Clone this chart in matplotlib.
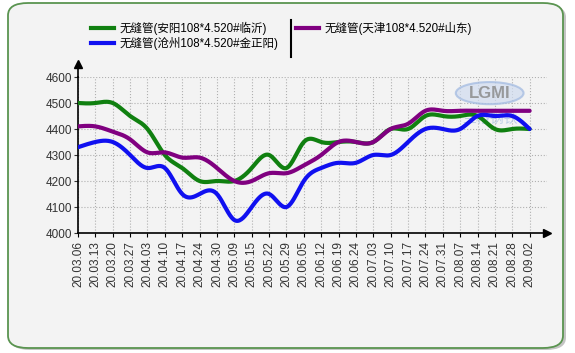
import numpy as np
import matplotlib
matplotlib.use('Agg')
import matplotlib.pyplot as plt
from matplotlib.patches import FancyBboxPatch, Ellipse
from matplotlib.lines import Line2D

dates = ['20.03.06', '20.03.13', '20.03.20', '20.03.27', '20.04.03', '20.04.10', '20.04.17',
         '20.04.24', '20.04.30', '20.05.09', '20.05.15', '20.05.22', '20.05.29', '20.06.05',
         '20.06.12', '20.06.19', '20.06.24', '20.07.03', '20.07.10', '20.07.17', '20.07.24',
         '20.07.31', '20.08.07', '20.08.14', '20.08.21', '20.08.28', '20.09.02']

anyang = [4500, 4500, 4500, 4450, 4400, 4300, 4250, 4200, 4200, 4200, 4250, 4300, 4250, 4350,
          4350, 4350, 4350, 4350, 4400, 4400, 4450, 4450, 4450, 4450, 4400, 4400, 4400]
tianjin = [4410, 4410, 4390, 4360, 4310, 4310, 4290, 4290, 4250, 4200, 4200, 4230, 4230, 4260,
           4300, 4350, 4350, 4350, 4400, 4420, 4470, 4470, 4470, 4470, 4470, 4470, 4470]
cangzhou = [4330, 4350, 4350, 4300, 4250, 4250, 4150, 4150, 4150, 4050, 4100, 4150, 4100, 4200,
            4250, 4270, 4270, 4300, 4300, 4350, 4400, 4400, 4400, 4450, 4450, 4450, 4400]

labels = ['无缝管(安阳108*4.520#临沂)', '无缝管(沧州108*4.520#金正阳)', '无缝管(天津108*4.520#山东)']
colors = ['#108010', '#1010f0', '#800080']

plt.rcParams['font.family'] = ['Liberation Sans', 'Noto Sans CJK SC', 'DejaVu Sans']


def smooth(y, n=20):
    # natural cubic spline through the weekly points, just for drawing
    y = np.asarray(y, float)
    m = len(y)
    A = np.zeros((m, m))
    b = np.zeros(m)
    A[0, 0] = A[-1, -1] = 1
    for i in range(1, m - 1):
        A[i, i - 1:i + 2] = [1, 4, 1]
        b[i] = 6 * (y[i + 1] - 2 * y[i] + y[i - 1])
    M = np.linalg.solve(A, b)
    xs = np.linspace(0, m - 1, (m - 1) * n + 1)
    i = np.clip(xs.astype(int), 0, m - 2)
    t = xs - i
    ys = ((1 - t) * y[i] + t * y[i + 1]
          + ((1 - t) ** 3 - (1 - t)) * M[i] / 6 + (t ** 3 - t) * M[i + 1] / 6)
    return xs, ys


fig = plt.figure(figsize=(5.75, 3.53), dpi=100)
fig.patch.set_facecolor('white')
W, H = 575, 353
box = dict(boxstyle='round,pad=0,rounding_size=0.035', transform=fig.transFigure)
shadow = FancyBboxPatch((10 / W, 1 - 350 / H), 556 / W, 345 / H, facecolor='#c4c4c4',
                        edgecolor='none', zorder=-3, **box)
frame = FancyBboxPatch((8 / W, 1 - 348 / H), 555 / W, 345 / H, facecolor='#f3f3f3',
                       edgecolor='#5a9450', linewidth=1.3, zorder=-2, **box)
fig.patches.extend([shadow, frame])

x0, x1, ytop, ybot = 78, 547, 77, 233
ax = fig.add_axes([x0 / W, 1 - ybot / H, (x1 - x0) / W, (ybot - ytop) / H])
ax.set_facecolor('none')
ax.set_xlim(0, 27)
ax.set_ylim(4000, 4600)

xi = np.arange(len(dates))
ax.set_xticks(xi)
ax.set_xticklabels(dates, rotation=90, fontsize=8.5, color='#333333')
ax.set_yticks(np.arange(4000, 4601, 100))
ax.tick_params(axis='y', labelsize=8.5, colors='#333333', length=3, pad=1)
ax.tick_params(axis='x', length=3, pad=3)
ax.grid(True, color='#b0b0b0', linestyle=':', linewidth=0.8)
ax.set_axisbelow(True)
for s in ['top', 'right']:
    ax.spines[s].set_visible(False)
for s in ['left', 'bottom']:
    ax.spines[s].set_linewidth(1.2)

for vals, c in [(anyang, colors[0]), (tianjin, colors[2]), (cangzhou, colors[1])]:
    xs, ys = smooth(vals)
    ax.plot(xs, ys, color=c, linewidth=3, solid_capstyle='round', zorder=3)

# axis arrows
ax.plot([0, 0], [4600, 4650], color='black', lw=1.2, clip_on=False)
ax.plot(0, 4650, marker='^', color='black', markersize=6, clip_on=False)
ax.plot(27, 4000, marker='>', color='black', markersize=6, clip_on=False)

# watermark
wm = Ellipse((23.7, 4538), 3.9, 85, facecolor='#d0dcf0', edgecolor='#9fb8e0', lw=1.5,
             alpha=0.7, zorder=2)
ax.add_patch(wm)
ax.text(23.7, 4536, 'LGMI', ha='center', va='center', fontsize=12, color='#8c8c8c',
        fontweight='bold', alpha=0.85, zorder=2)
ax.text(23.7, 4440, '兰格钢铁', ha='center', va='center', fontsize=10, color='#a8c0e0',
        alpha=0.7, zorder=2)

# legend
handles = [Line2D([], [], color=c, lw=3) for c in colors]
fig.legend(handles[:2], labels[:2], loc='upper left', bbox_to_anchor=(86 / W, 1 - 17 / H),
           frameon=False, fontsize=8.3, handlelength=2.0, handletextpad=0.5, labelspacing=0.2,
           borderaxespad=0)
fig.legend(handles[2:], labels[2:], loc='upper left', bbox_to_anchor=(291 / W, 1 - 17 / H),
           frameon=False, fontsize=8.3, handlelength=2.0, handletextpad=0.5, borderaxespad=0)
fig.add_artist(Line2D([291 / W, 291 / W], [1 - 20 / H, 1 - 57 / H], color='black', lw=1.5,
                      transform=fig.transFigure))

fig.savefig('out.png', dpi=100)
